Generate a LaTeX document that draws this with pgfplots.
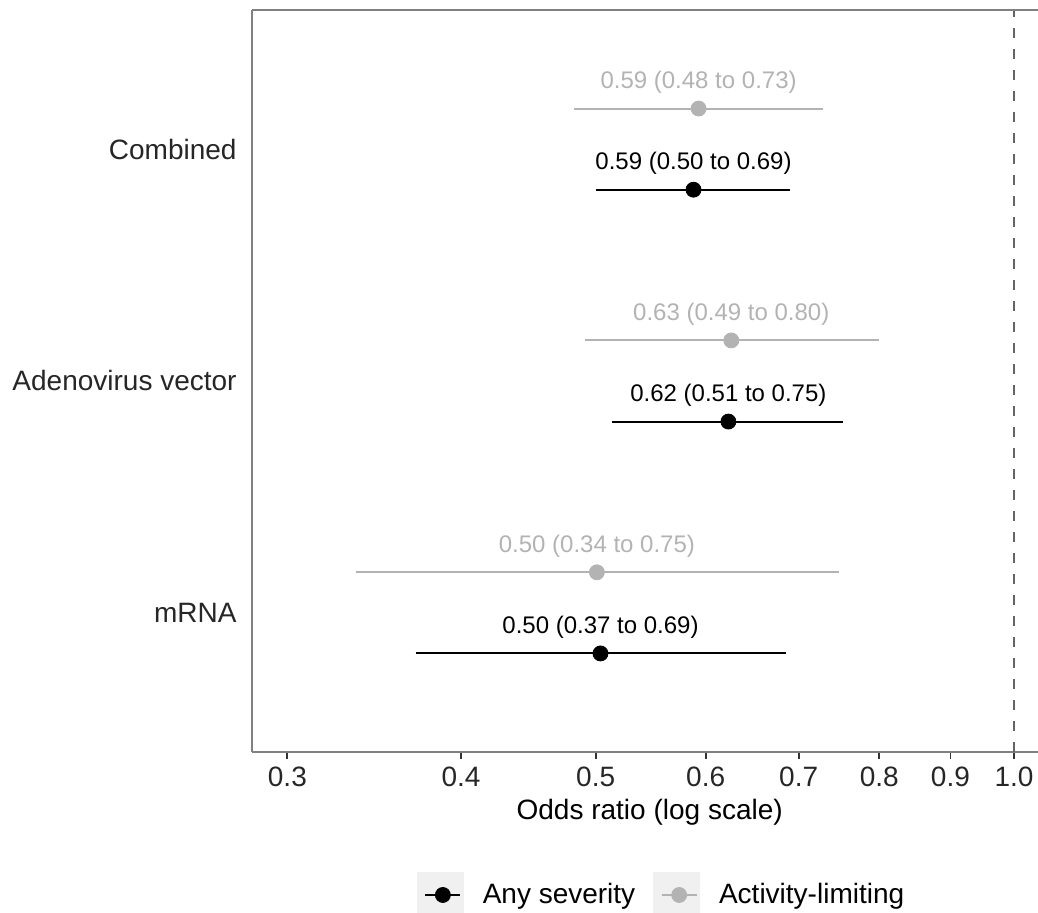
\documentclass[border=0pt]{standalone}
\usepackage{pgfplots}
\pgfplotsset{compat=1.18}
\usepackage{pgfplotstable}
\usepackage{fontspec}
\setmainfont{Liberation Sans}
\definecolor{ciGray}{RGB}{179,179,179}
\definecolor{keyBg}{RGB}{240,240,240}
\definecolor{frameGray}{RGB}{128,128,128}
\definecolor{dashGray}{RGB}{100,100,100}

\pgfplotstableread[col sep=comma]{
y,est,lo,hi,label
2.825,0.588,0.50,0.69,0.59 (0.50 to 0.69)
1.825,0.623,0.514,0.753,0.62 (0.51 to 0.75)
0.825,0.504,0.371,0.685,0.50 (0.37 to 0.69)
}\anysev

\pgfplotstableread[col sep=comma]{
y,est,lo,hi,label
3.175,0.593,0.4825,0.729,0.59 (0.48 to 0.73)
2.175,0.626,0.491,0.80,0.63 (0.49 to 0.80)
1.175,0.501,0.336,0.748,0.50 (0.34 to 0.75)
}\actlim

\begin{document}
\begin{tikzpicture}
\begin{axis}[
  at={(0,0)}, anchor=south west,
  scale only axis,
  width=393pt, height=371pt,
  xmode=log,
  xmin=0.2829, xmax=1.0406,
  ymin=0.4, ymax=3.6,
  axis x line*=bottom,
  axis y line*=left,
  axis line style={frameGray, line width=0.9pt},
  xtick={0.3,0.4,0.5,0.6,0.7,0.8,0.9,1.0},
  xticklabels={0.3,0.4,0.5,0.6,0.7,0.8,0.9,1.0},
  minor xtick={},
  xtick align=outside,
  major tick length=3.5pt,
  x tick style={black!80, line width=0.9pt},
  ytick={1,2,3},
  yticklabels={mRNA,Adenovirus vector,Combined},
  y tick style={draw=none},
  ticklabel style={font=\fontsize{14}{16.8}\selectfont, text=black!85},
  xticklabel style={inner sep=0pt, yshift=-4pt},
  yticklabel style={inner sep=0pt, xshift=-7.5pt},
  xlabel={Odds ratio (log scale)},
  xlabel style={font=\fontsize{14}{16.8}\selectfont, at={(axis description cs:0.506,-0.0809)}, anchor=center, inner sep=0pt},
  legend columns=2,
  legend style={draw=none, fill=none, inner sep=0pt, outer sep=0pt,
    at={(axis description cs:0.2099,-0.1927)}, anchor=west,
    font=\fontsize{14}{16.8}\selectfont,
    nodes={inner sep=0pt},
    /tikz/every odd column/.append style={column sep=9.5pt},
    /tikz/every even column/.append style={column sep=9pt}},
  legend cell align=left,
  legend image code/.code={
    \fill[keyBg] (0pt,-11.5pt) rectangle (23pt,11.5pt);
    \draw[#1, line width=1pt] (4pt,0pt) -- (21.5pt,0pt);
    \fill[#1] (12.75pt,0pt) circle (3.75pt);
  },
  clip=false,
]
% reference line at 1
\addplot[dashGray, line width=0.8pt, dash pattern=on 5pt off 5.5pt, forget plot] coordinates {(1,0.4) (1,3.6)};

% CI lines: any severity
\addplot[black, line width=1pt, forget plot] coordinates {(0.50,2.825) (0.69,2.825)};
\addplot[black, line width=1pt, forget plot] coordinates {(0.514,1.825) (0.753,1.825)};
\addplot[black, line width=1pt, forget plot] coordinates {(0.371,0.825) (0.685,0.825)};
% CI lines: activity-limiting
\addplot[ciGray, line width=1pt, forget plot] coordinates {(0.4825,3.175) (0.729,3.175)};
\addplot[ciGray, line width=1pt, forget plot] coordinates {(0.491,2.175) (0.80,2.175)};
\addplot[ciGray, line width=1pt, forget plot] coordinates {(0.336,1.175) (0.748,1.175)};

% points with labels
\addplot[only marks, mark=*, mark size=3.75pt, black, forget plot,
  nodes near coords, point meta=explicit symbolic,
  every node near coord/.append style={anchor=center, yshift=13pt, inner sep=0pt,
    font=\fontsize{12}{14.4}\selectfont, text=black}]
  table[x=est, y=y, meta=label] {\anysev};
\addplot[only marks, mark=*, mark size=3.75pt, ciGray, forget plot,
  nodes near coords, point meta=explicit symbolic,
  every node near coord/.append style={anchor=center, yshift=13pt, inner sep=0pt,
    font=\fontsize{12}{14.4}\selectfont, text=ciGray}]
  table[x=est, y=y, meta=label] {\actlim};

\addlegendimage{black}
\addlegendentry{Any severity}
\addlegendimage{ciGray}
\addlegendentry{Activity-limiting}

% top frame line (right side is cut off in the reference)
\draw[frameGray, line width=0.9pt] (rel axis cs:0,1) -- (rel axis cs:1,1);
\end{axis}
\pgfresetboundingbox
\path[use as bounding box] (-126pt,-80.5pt) rectangle (393pt,376pt);
\end{tikzpicture}
\end{document}
